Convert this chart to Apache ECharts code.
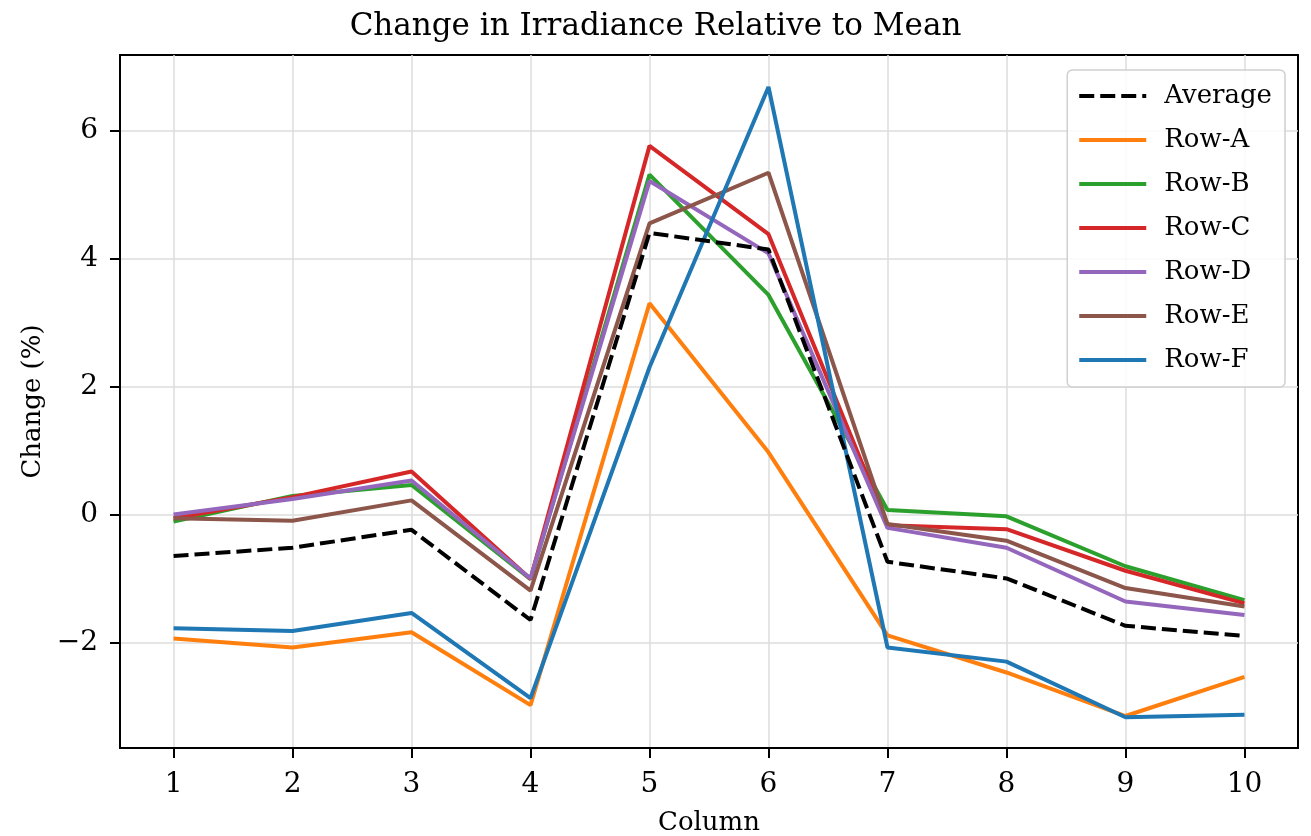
<!DOCTYPE html>
<html>
<head>
<meta charset="utf-8">
<script src="https://cdn.jsdelivr.net/npm/echarts@6/dist/echarts.min.js"></script>
<style>html,body{margin:0;padding:0;background:#fff}#c{width:1311px;height:836px}</style>
</head>
<body>
<div id="c"></div>
<script>
const columns = [1, 2, 3, 4, 5, 6, 7, 8, 9, 10];
const average = [-0.64, -0.51, -0.23, -1.64, 4.41, 4.15, -0.73, -0.99, -1.73, -1.89];
const rowA = [-1.93, -2.07, -1.83, -2.97, 3.31, 0.98, -1.88, -2.46, -3.14, -2.53];
const rowB = [-0.10, 0.30, 0.47, -1.00, 5.32, 3.44, 0.08, -0.02, -0.80, -1.33];
const rowC = [-0.05, 0.28, 0.68, -1.00, 5.77, 4.39, -0.16, -0.22, -0.87, -1.38];
const rowD = [0.01, 0.25, 0.54, -0.99, 5.22, 4.09, -0.20, -0.51, -1.35, -1.56];
const rowE = [-0.05, -0.09, 0.23, -1.18, 4.56, 5.35, -0.14, -0.40, -1.14, -1.43];
const rowF = [-1.77, -1.81, -1.53, -2.86, 2.31, 6.69, -2.07, -2.29, -3.16, -3.12];
const yTicks = [-2, 0, 2, 4, 6];
const rowNames = ['Row-A', 'Row-B', 'Row-C', 'Row-D', 'Row-E', 'Row-F'];
const rowColors = ['#ff7f0e', '#2ca02c', '#d62728', '#9467bd', '#8c564b', '#1f77b4'];
const rowData = [rowA, rowB, rowC, rowD, rowE, rowF];

const FONT = 'DejaVu Serif';
const pairs = arr => columns.map((c, i) => [c, arr[i]]);

const series = [{
  name: 'Average', type: 'line', data: pairs(average), symbol: 'none', z: 10,
  lineStyle: {color: '#000', width: 4, type: [15, 6]}, itemStyle: {color: '#000'}
}];
rowNames.forEach((n, i) => series.push({
  name: n, type: 'line', data: pairs(rowData[i]), symbol: 'none', z: 3,
  lineStyle: {color: rowColors[i], width: 4}, itemStyle: {color: rowColors[i]}
}));

const chart = echarts.init(document.getElementById('c'), null, {renderer: 'canvas'});
chart.setOption({
  animation: false,
  backgroundColor: '#fff',
  title: {text: 'Change in Irradiance Relative to Mean', left: 'center', top: 6,
    textStyle: {fontFamily: FONT, fontSize: 31, fontWeight: 'normal', color: '#000'}},
  grid: {left: 120, right: 13, top: 55, bottom: 88, show: true, borderColor: '#000', borderWidth: 2,
    backgroundColor: 'transparent', containLabel: false, outerBoundsMode: 'none'},
  legend: {
    orient: 'vertical', right: 26, top: 70,
    data: ['Average'].concat(rowNames),
    itemWidth: 67, itemHeight: 14, itemGap: 18,
    padding: [13, 13, 14, 10],
    itemStyle: {opacity: 0},
    lineStyle: {width: 4},
    backgroundColor: 'rgba(255,255,255,0.85)', borderColor: '#d0d0d0', borderWidth: 1.5, borderRadius: 5,
    textStyle: {fontFamily: FONT, fontSize: 26, color: '#000', padding: [0, 0, 0, 13], lineHeight: 26}
  },
  xAxis: {
    type: 'value', min: 0.55, max: 10.45,
    name: 'Column', nameLocation: 'middle', nameGap: 62,
    nameTextStyle: {fontFamily: FONT, fontSize: 26, color: '#000'},
    axisLine: {show: true, onZero: false, lineStyle: {color: '#000', width: 2}},
    axisTick: {show: true, length: 10, lineStyle: {color: '#000', width: 2}, customValues: columns},
    axisLabel: {fontFamily: FONT, fontSize: 28, color: '#000', margin: 23, customValues: columns},
    splitLine: {show: true, lineStyle: {color: '#dcdcdc', width: 1.5}}
  },
  yAxis: {
    type: 'value', min: -3.64, max: 7.19,
    name: 'Change (%)', nameLocation: 'middle', nameGap: 71, nameRotate: 90,
    nameTextStyle: {fontFamily: FONT, fontSize: 26, color: '#000'},
    axisLine: {show: true, onZero: false, lineStyle: {color: '#000', width: 2}},
    axisTick: {show: true, length: 10, lineStyle: {color: '#000', width: 2}, customValues: yTicks},
    axisLabel: {fontFamily: FONT, fontSize: 28, color: '#000', margin: 22, customValues: yTicks,
      formatter: v => (v < 0 ? '\u2212' + Math.abs(v) : String(v))},
    splitLine: {show: true, lineStyle: {color: '#dcdcdc', width: 1.5}}
  },
  series: series
});
</script>
</body>
</html>
